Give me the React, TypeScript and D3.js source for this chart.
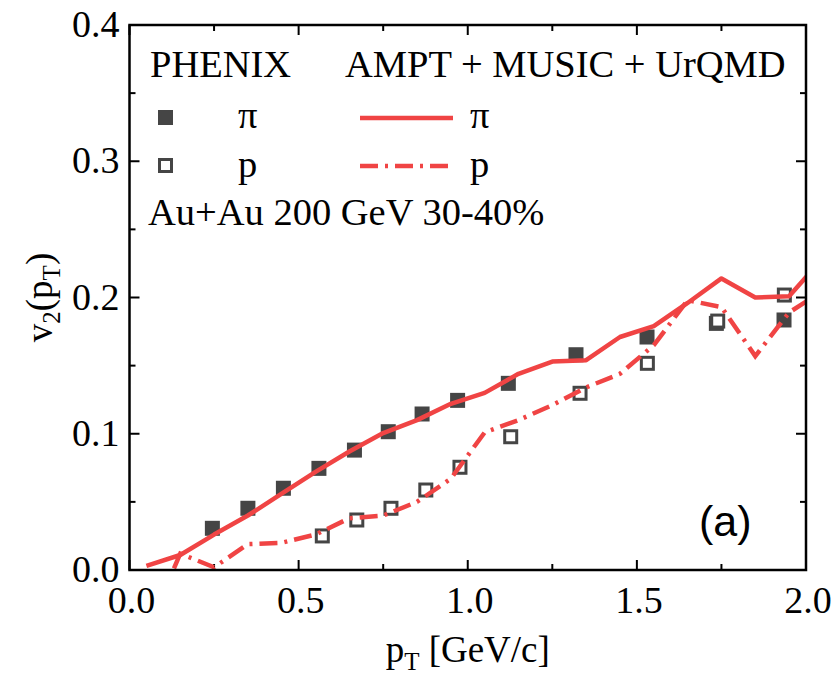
import React, { useEffect, useRef } from 'react';
import * as d3 from 'd3';

// model bins (pT centres, GeV/c)
const modelPt = [0.05, 0.15, 0.25, 0.35, 0.45, 0.55, 0.65, 0.75, 0.85, 0.95, 1.05,
  1.15, 1.25, 1.35, 1.45, 1.55, 1.65, 1.75, 1.85, 1.95, 2.05];
const modelPi = [0.003, 0.011, 0.026, 0.040, 0.056, 0.072, 0.087, 0.1005, 0.110, 0.122, 0.130,
  0.144, 0.153, 0.154, 0.171, 0.179, 0.196, 0.214, 0.200, 0.201, 0.229];
const modelP = [-0.046, 0.012, 0.002, 0.019, 0.020, 0.026, 0.038, 0.040, 0.050, 0.067, 0.101,
  0.110, 0.121, 0.134, 0.144, 0.165, 0.198, 0.193, 0.157, 0.189, 0.205];

// PHENIX data
const phenixPiPt = [0.245, 0.35, 0.455, 0.56, 0.665, 0.765, 0.865, 0.97, 1.12, 1.32, 1.53, 1.735, 1.935];
const phenixPiV2 = [0.0306, 0.0453, 0.060, 0.0746, 0.088, 0.1015, 0.1145, 0.1245, 0.137, 0.158, 0.171, 0.181, 0.1835];
const phenixPPt = [0.57, 0.672, 0.773, 0.876, 0.977, 1.127, 1.332, 1.531, 1.739, 1.936];
const phenixPV2 = [0.025, 0.0367, 0.0453, 0.0587, 0.0754, 0.0978, 0.1297, 0.1517, 0.1827, 0.2018];

const xMajor = [0, 0.5, 1.0, 1.5, 2.0];
const xMinor = [0.25, 0.75, 1.25, 1.75];
const yMajor = [0, 0.1, 0.2, 0.3, 0.4];
const yMinor = [0.05, 0.15, 0.25, 0.35];

const RED = '#f04444';
const GREY = '#454545';
const SERIF = '"Liberation Serif", "Times New Roman", serif';

const App = () => {
  const ref = useRef<SVGSVGElement>(null);

  useEffect(() => {
    const W = 834, H = 684;
    const margin = { top: 25, right: 28, bottom: 114, left: 129.5 };
    const svg = d3.select(ref.current);
    svg.selectAll('*').remove();

    const x = d3.scaleLinear().domain([0, 2]).range([margin.left, W - margin.right]);
    const y = d3.scaleLinear().domain([0, 0.4]).range([H - margin.bottom, margin.top]);
    const [x0, x1] = x.range();
    const [y0, y1] = y.range();

    svg.append('defs').append('clipPath').attr('id', 'plot')
      .append('rect').attr('x', x0).attr('y', y1).attr('width', x1 - x0).attr('height', y0 - y1);

    // ticks (inward on all four sides)
    const tickG = svg.append('g').attr('stroke', '#000').attr('stroke-width', 2);
    const major = 10, minor = 6;
    [...xMajor.map(v => [v, major]), ...xMinor.map(v => [v, minor])].forEach(([v, len]) => {
      tickG.append('line').attr('x1', x(v)).attr('x2', x(v)).attr('y1', y0).attr('y2', y0 - len);
      tickG.append('line').attr('x1', x(v)).attr('x2', x(v)).attr('y1', y1).attr('y2', y1 + len);
    });
    [...yMajor.map(v => [v, major]), ...yMinor.map(v => [v, minor])].forEach(([v, len]) => {
      tickG.append('line').attr('y1', y(v)).attr('y2', y(v)).attr('x1', x0).attr('x2', x0 + len);
      tickG.append('line').attr('y1', y(v)).attr('y2', y(v)).attr('x1', x1).attr('x2', x1 - len);
    });

    svg.selectAll('.xlab').data(xMajor).enter().append('text')
      .attr('x', d => x(d) + 2).attr('y', y0 + 43)
      .attr('text-anchor', 'middle').attr('font-family', SERIF).attr('font-size', 38)
      .text(d => d.toFixed(1));
    svg.selectAll('.ylab').data(yMajor).enter().append('text')
      .attr('x', x0 - 10).attr('y', d => y(d) + 12)
      .attr('text-anchor', 'end').attr('font-family', SERIF).attr('font-size', 38)
      .text(d => d.toFixed(1));

    // axis titles
    const xt = svg.append('text').attr('x', (x0 + x1) / 2).attr('y', 662)
      .attr('text-anchor', 'middle').attr('font-family', SERIF).attr('font-size', 37);
    xt.append('tspan').text('p');
    xt.append('tspan').attr('font-size', 25).attr('dy', 8).text('T');
    xt.append('tspan').attr('dy', -8).text(' [GeV/c]');

    const yt = svg.append('text').attr('transform', `translate(52,${(y0 + y1) / 2}) rotate(-90)`)
      .attr('text-anchor', 'middle').attr('font-family', SERIF).attr('font-size', 37);
    yt.append('tspan').text('v');
    yt.append('tspan').attr('font-size', 25).attr('dy', 8).text('2');
    yt.append('tspan').attr('dy', -8).text('(p');
    yt.append('tspan').attr('font-size', 25).attr('dy', 8).text('T');
    yt.append('tspan').attr('dy', -8).text(')');

    // data markers
    const sq = 15;
    svg.append('g').selectAll('rect').data(phenixPiPt).enter().append('rect')
      .attr('x', (d) => x(d) - sq / 2).attr('y', (d, i) => y(phenixPiV2[i]) - sq / 2)
      .attr('width', sq).attr('height', sq).attr('fill', GREY);
    svg.append('g').selectAll('rect').data(phenixPPt).enter().append('rect')
      .attr('x', (d) => x(d) - (sq - 3) / 2).attr('y', (d, i) => y(phenixPV2[i]) - (sq - 3) / 2)
      .attr('width', sq - 3).attr('height', sq - 3).attr('fill', '#fff')
      .attr('stroke', GREY).attr('stroke-width', 3);

    // model curves
    const line = d3.line<number>().x((d, i) => x(modelPt[i])).y(d => y(d));
    const curves = svg.append('g').attr('clip-path', 'url(#plot)');
    curves.append('path').datum(modelPi).attr('d', line)
      .attr('fill', 'none').attr('stroke', RED).attr('stroke-width', 4.5).attr('stroke-linejoin', 'round');
    curves.append('path').datum(modelP).attr('d', line)
      .attr('fill', 'none').attr('stroke', RED).attr('stroke-width', 4.5)
      .attr('stroke-dasharray', '18,7,3,7');

    // frame
    svg.append('rect').attr('x', x0).attr('y', y1).attr('width', x1 - x0).attr('height', y0 - y1)
      .attr('fill', 'none').attr('stroke', '#000').attr('stroke-width', 2.5);

    // legend
    const lg = svg.append('g').attr('font-family', SERIF).attr('font-size', 38.5);
    lg.append('text').attr('x', 150).attr('y', 77).text('PHENIX');
    lg.append('text').attr('x', 345).attr('y', 77).text('AMPT + MUSIC + UrQMD');
    lg.append('rect').attr('x', 158).attr('y', 110).attr('width', sq).attr('height', sq).attr('fill', GREY);
    lg.append('rect').attr('x', 159.5).attr('y', 159.5).attr('width', sq - 3).attr('height', sq - 3)
      .attr('fill', '#fff').attr('stroke', GREY).attr('stroke-width', 3);
    lg.append('text').attr('x', 238).attr('y', 128).text('π');
    lg.append('text').attr('x', 238).attr('y', 177).text('p');
    lg.append('line').attr('x1', 360).attr('x2', 453).attr('y1', 118).attr('y2', 118)
      .attr('stroke', RED).attr('stroke-width', 4.5);
    lg.append('line').attr('x1', 360).attr('x2', 453).attr('y1', 166).attr('y2', 166)
      .attr('stroke', RED).attr('stroke-width', 4.5).attr('stroke-dasharray', '18,7,3,7');
    lg.append('text').attr('x', 470).attr('y', 128).text('π');
    lg.append('text').attr('x', 470).attr('y', 177).text('p');
    lg.append('text').attr('x', 148).attr('y', 225).text('Au+Au 200 GeV 30-40%');

    svg.append('text').attr('x', 699).attr('y', 536)
      .attr('font-family', '"Liberation Sans", Arial, sans-serif').attr('font-size', 43)
      .text('(a)');
  }, []);

  return (
    <div style={{ position: 'absolute', left: 0, top: 0 }}>
      <svg ref={ref} width={834} height={684} style={{ display: 'block', background: '#fff' }} />
    </div>
  );
};

export default App;
